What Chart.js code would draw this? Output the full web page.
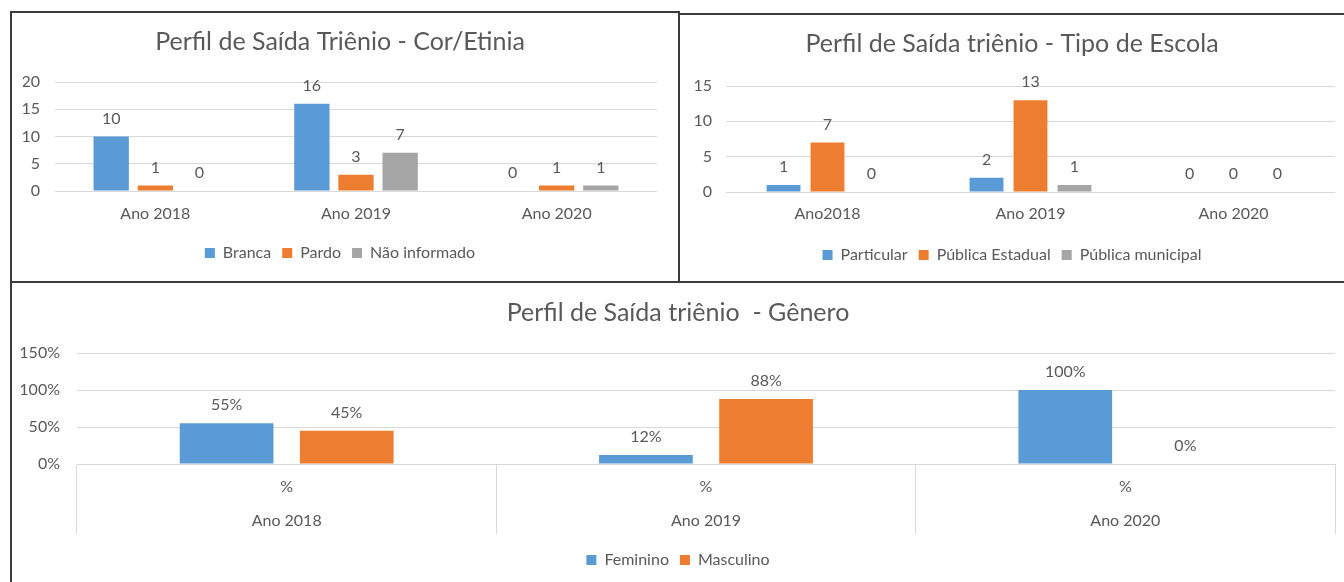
<!DOCTYPE html>
<html>
<head>
<meta charset="utf-8">
<script src="https://cdn.jsdelivr.net/npm/chart.js@4.4.1/dist/chart.umd.min.js"></script>
<style>
  html, body { margin: 0; padding: 0; background: #fff; width: 1344px; height: 582px; overflow: hidden; position: relative; }
  .box { position: absolute; }
  .line { position: absolute; background: #3a3a3a; }
</style>
</head>
<body>
<div class="box" id="w1" style="left:12px;top:13px;width:666px;height:268px;"><canvas id="c1"></canvas></div>
<div class="box" id="w2" style="left:681px;top:15px;width:663px;height:266px;"><canvas id="c2"></canvas></div>
<div class="box" id="w3" style="left:12px;top:283px;width:1332px;height:299px;"><canvas id="c3"></canvas></div>

<div class="line" style="left:10px;top:11px;width:670px;height:2px;"></div>
<div class="line" style="left:10px;top:11px;width:2px;height:571px;"></div>
<div class="line" style="left:678px;top:11px;width:2px;height:271px;"></div>
<div class="line" style="left:680px;top:13px;width:664px;height:2px;"></div>
<div class="line" style="left:10px;top:281px;width:1334px;height:2px;"></div>

<script>
// ---- Data ----
const corCategories = ['Ano 2018', 'Ano 2019', 'Ano 2020'];
const corBranca = [10, 16, 0];
const corPardo = [1, 3, 1];
const corNaoInformado = [0, 7, 1];

const escolaCategories = ['Ano2018', 'Ano 2019', 'Ano 2020'];
const escolaParticular = [1, 2, 0];
const escolaEstadual = [7, 13, 0];
const escolaMunicipal = [0, 1, 0];

const generoCategories = [['%', 'Ano 2018'], ['%', 'Ano 2019'], ['%', 'Ano 2020']];
const generoFeminino = [0.55, 0.12, 1.00];
const generoMasculino = [0.45, 0.88, 0.00];

// ---- Style ----
const FONT = 'Lato, "Open Sans", sans-serif';
const TXT = '#595959';
const GRID = '#d9d9d9';
const BLUE = '#5B9BD5', ORANGE = '#ED7D31', GRAY = '#A5A5A5';

const valueLabels = {
  id: 'valueLabels',
  afterDatasetsDraw(chart, args, opts) {
    const ctx = chart.ctx;
    ctx.save();
    ctx.font = (opts.size || 15) + 'px ' + FONT;
    ctx.fillStyle = TXT;
    ctx.textAlign = 'center';
    ctx.textBaseline = 'middle';
    chart.data.datasets.forEach((ds, i) => {
      const meta = chart.getDatasetMeta(i);
      meta.data.forEach((el, j) => {
        const v = ds.data[j];
        const txt = opts.fmt ? opts.fmt(v) : String(v);
        ctx.fillText(txt, el.x, el.y - (opts.offset || 18));
      });
    });
    ctx.restore();
  }
};

function makeChart(id, cfg) {
  const o = cfg;
  return new Chart(document.getElementById(id), {
    type: 'bar',
    data: {
      labels: o.labels,
      datasets: o.series.map(s => ({
        label: s.name, data: s.data, backgroundColor: s.color,
        categoryPercentage: o.cp, barPercentage: o.bp
      }))
    },
    options: {
      responsive: true,
      maintainAspectRatio: false,
      animation: false,
      layout: { padding: { left: o.padLeft, right: o.padRight, top: 0, bottom: o.padBottom } },
      plugins: {
        title: {
          display: true, text: o.title, color: TXT,
          font: { family: FONT, size: o.titleSize, weight: 'normal' },
          padding: { top: o.titleTop, bottom: o.titleBottom }
        },
        legend: {
          position: 'bottom',
          labels: {
            color: TXT, font: { family: FONT, size: o.legendSize },
            boxWidth: 10, boxHeight: 10, padding: 11
          }
        },
        tooltip: { enabled: false },
        valueLabels: { fmt: o.fmt, size: o.labelSize, offset: 18 }
      },
      scales: {
        x: {
          grid: o.xGrid,
          border: o.xBorder,
          ticks: { color: TXT, font: { family: FONT, size: o.tickSize, lineHeight: o.xLineHeight || 1.2 }, padding: o.xPad, maxRotation: 0, autoSkip: false },
          afterFit: s => { s.height = o.xHeight; }
        },
        y: {
          min: 0, max: o.ymax,
          grid: { color: GRID, drawTicks: false },
          border: { display: false },
          ticks: { stepSize: o.step, color: TXT, font: { family: FONT, size: o.tickSize }, padding: o.yPad, callback: o.yFmt },
          afterFit: s => { s.width = o.yWidth; }
        }
      }
    },
    plugins: [valueLabels]
  });
}

makeChart('c1', {
  labels: corCategories,
  series: [
    { name: 'Branca', data: corBranca, color: BLUE },
    { name: 'Pardo', data: corPardo, color: ORANGE },
    { name: 'Não informado', data: corNaoInformado, color: GRAY }
  ],
  cp: 0.66, bp: 0.8,
  title: 'Perfil de Saída Triênio - Cor/Etinia', titleSize: 25, titleTop: 14, titleBottom: 25,
  legendSize: 16, tickSize: 16, labelSize: 16,
  padLeft: 11, padRight: 21, padBottom: 10,
  xGrid: { display: false }, xBorder: { display: false },
  xPad: 5, xHeight: 43,
  ymax: 20, step: 5, yPad: 15, yWidth: 32
});

makeChart('c2', {
  labels: escolaCategories,
  series: [
    { name: 'Particular', data: escolaParticular, color: BLUE },
    { name: 'Pública Estadual', data: escolaEstadual, color: ORANGE },
    { name: 'Pública municipal', data: escolaMunicipal, color: GRAY }
  ],
  cp: 0.65, bp: 0.77,
  title: 'Perfil de Saída triênio - Tipo de Escola', titleSize: 25, titleTop: 14, titleBottom: 27,
  legendSize: 16, tickSize: 16, labelSize: 16,
  padLeft: 8, padRight: 9, padBottom: 8,
  xGrid: { display: false }, xBorder: { display: false },
  xPad: 4, xHeight: 44,
  ymax: 15, step: 5, yPad: 14, yWidth: 37
});

makeChart('c3', {
  labels: generoCategories,
  series: [
    { name: 'Feminino', data: generoFeminino, color: BLUE },
    { name: 'Masculino', data: generoMasculino, color: ORANGE }
  ],
  cp: 0.573, bp: 0.78,
  title: 'Perfil de Saída triênio  - Gênero', titleSize: 25, titleTop: 15, titleBottom: 25,
  legendSize: 16, tickSize: 16, labelSize: 16,
  fmt: v => Math.round(v * 100) + '%',
  yFmt: v => Math.round(v * 100) + '%',
  padLeft: 9, padRight: 9, padBottom: 4,
  xGrid: { display: true, drawOnChartArea: false, drawTicks: true, tickLength: 70, color: GRID, offset: true },
  xBorder: { display: true, color: GRID },
  xPad: -64, xHeight: 77, xLineHeight: 2.125,
  ymax: 1.5, step: 0.5, yPad: 17, yWidth: 56
});
</script>
</body>
</html>
